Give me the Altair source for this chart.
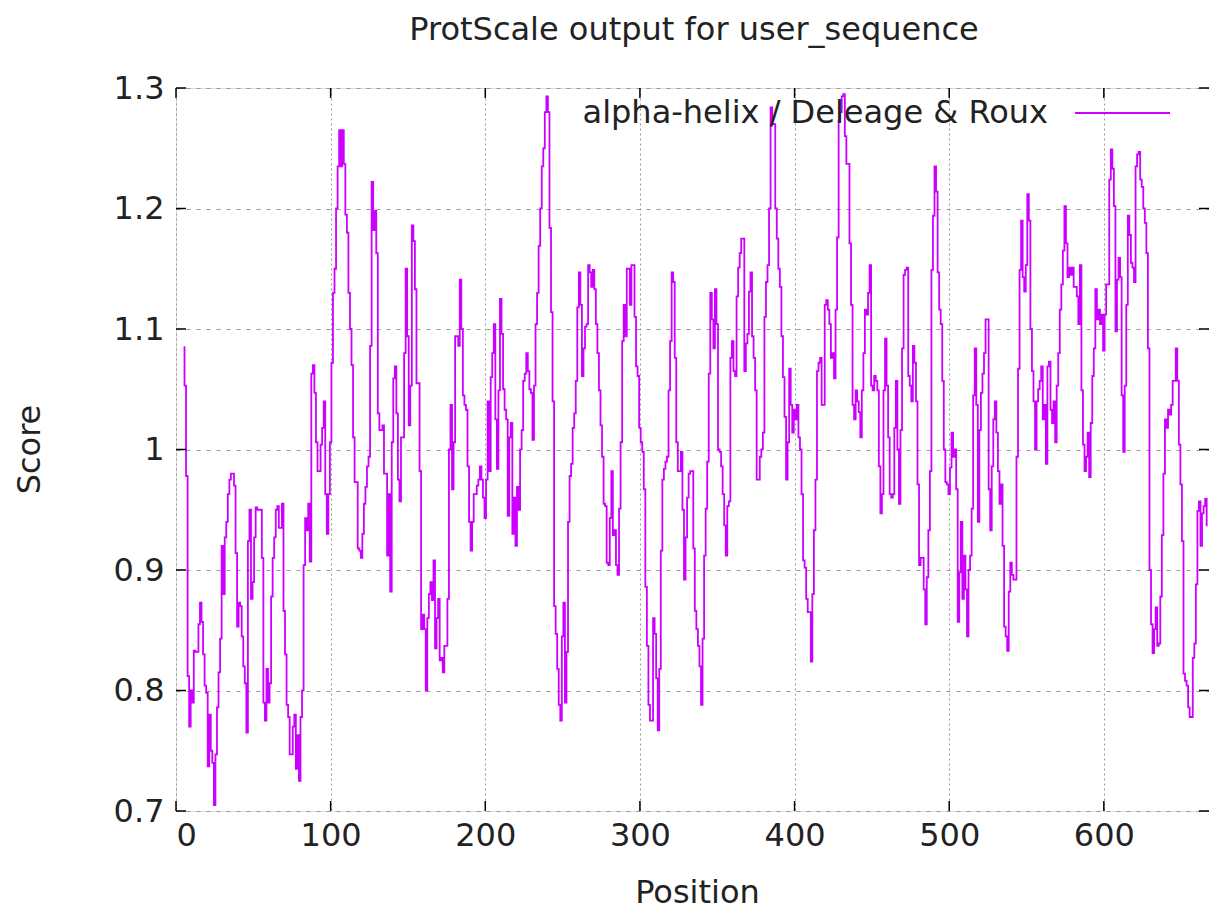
import altair as alt
import pandas as pd

title_text = "ProtScale output for user_sequence"
legend_label = "alpha-helix / Deleage & Roux"
x_title = "Position"
y_title = "Score"
first_position = 5
x_ticks = [0, 100, 200, 300, 400, 500, 600]
y_ticks = [0.7, 0.8, 0.9, 1.0, 1.1, 1.2, 1.3]
x_domain = [0, 668]
y_domain = [0.7, 1.3]

# scores, one per position starting at position 5
scores_005_053 = [1.085, 1.053, 0.978, 0.812, 0.77, 0.80, 0.79, 0.833, 0.832, 0.832,
                  0.855, 0.873, 0.857, 0.83, 0.804, 0.798, 0.737, 0.78, 0.75, 0.74,
                  0.705, 0.747, 0.786, 0.815, 0.843, 0.92, 0.88, 0.927, 0.94, 0.963,
                  0.975, 0.98, 0.98, 0.97, 0.914, 0.853, 0.873, 0.87, 0.845, 0.82,
                  0.806, 0.765, 0.924, 0.95, 0.876, 0.89, 0.927, 0.952, 0.95, 0.95]
scores_054_111 = [0.95, 0.91, 0.79, 0.775, 0.818, 0.79, 0.806, 0.878, 0.91, 0.927,
                  0.95, 0.953, 0.935, 0.935, 0.955, 0.866, 0.83, 0.788, 0.778, 0.747,
                  0.747, 0.77, 0.78, 0.735, 0.763, 0.725, 0.778, 0.80, 0.904, 0.943,
                  0.933, 0.955, 0.907, 1.063, 1.07, 1.047, 1.006, 0.982, 0.982, 1.004,
                  1.018, 1.04, 0.963, 0.93, 0.963, 1.006, 1.072, 1.13, 1.15, 1.2,
                  1.235, 1.265, 1.235, 1.265, 1.237, 1.195, 1.18, 1.13]
scores_112_165 = [1.1, 1.07, 1.01, 0.973, 0.973, 0.918, 0.916, 0.91, 0.93, 0.955,
                  0.969, 0.986, 0.994, 1.086, 1.222, 1.182, 1.198, 1.163, 1.03, 1.016,
                  1.016, 1.02, 0.98, 0.98, 0.912, 0.963, 0.882, 1.006, 1.059, 1.069,
                  1.03, 0.975, 0.957, 1.01, 1.01, 1.08, 1.15, 1.094, 1.02, 1.053,
                  1.186, 1.173, 1.133, 1.055, 1.055, 0.982, 0.851, 0.863, 0.851, 0.80,
                  0.86, 0.88, 0.89, 0.875]
scores_166_220 = [0.908, 0.835, 0.86, 0.876, 0.825, 0.827, 0.815, 0.837, 0.837, 0.876,
                  1.0, 1.037, 0.967, 1.006, 1.094, 1.094, 1.086, 1.141, 1.1, 1.045,
                  1.037, 1.033, 0.986, 0.94, 0.916, 0.94, 0.963, 0.963, 0.97, 0.975,
                  0.986, 0.975, 0.96, 0.943, 0.975, 1.04, 0.982, 1.06, 1.08, 1.104,
                  1.025, 0.984, 1.049, 1.125, 1.096, 1.05, 1.033, 1.025, 0.945, 1.01,
                  1.022, 0.93, 0.96, 0.92, 0.969]
scores_221_279 = [0.95, 1.0, 1.016, 1.057, 1.063, 1.08, 1.065, 1.05, 1.047, 1.008,
                  1.053, 1.104, 1.13, 1.169, 1.2, 1.235, 1.25, 1.28, 1.293, 1.28,
                  1.184, 1.114, 1.04, 0.87, 0.847, 0.818, 0.788, 0.775, 0.845, 0.873,
                  0.79, 0.832, 0.94, 0.978, 0.988, 1.018, 1.03, 1.057, 1.118, 1.147,
                  1.12, 1.061, 1.084, 1.102, 1.104, 1.153, 1.147, 1.135, 1.149, 1.133,
                  1.104, 1.08, 1.049, 1.02, 0.994, 0.955, 0.953, 0.906, 0.904]
scores_280_332 = [0.943, 0.982, 0.929, 0.933, 0.904, 0.896, 0.951, 1.006, 1.09, 1.12,
                  1.094, 1.15, 1.15, 1.12, 1.153, 1.153, 1.11, 1.069, 1.061, 1.018,
                  1.006, 0.998, 0.967, 0.886, 0.837, 0.788, 0.775, 0.775, 0.86, 0.847,
                  0.81, 0.767, 0.818, 0.916, 0.975, 0.984, 0.99, 0.994, 1.049, 1.09,
                  1.147, 1.139, 1.076, 1.006, 0.982, 0.982, 0.998, 0.95, 0.892, 0.927,
                  0.96, 0.98, 0.982]
scores_333_388 = [0.982, 0.918, 0.866, 0.851, 0.837, 0.82, 0.788, 0.843, 0.912, 0.951,
                  0.99, 1.063, 1.13, 1.108, 1.084, 1.133, 1.104, 1.0, 0.998, 0.986,
                  0.963, 0.937, 0.912, 0.953, 0.957, 1.076, 1.09, 1.065, 1.061, 1.127,
                  1.151, 1.163, 1.175, 1.175, 1.065, 1.088, 1.096, 1.131, 1.147, 1.094,
                  1.076, 1.049, 0.975, 0.975, 0.994, 1.0, 1.014, 1.11, 1.139, 1.153,
                  1.2, 1.284, 1.27, 1.27, 1.2, 1.175]
scores_389_444 = [1.15, 1.135, 1.094, 1.06, 1.027, 0.975, 1.006, 1.067, 1.037, 1.014,
                  1.033, 1.025, 1.037, 1.01, 1.0, 0.963, 0.908, 0.902, 0.876, 0.865,
                  0.865, 0.824, 0.88, 0.933, 0.975, 1.065, 1.072, 1.076, 1.037, 1.037,
                  1.12, 1.124, 1.116, 1.104, 1.076, 1.08, 1.059, 1.116, 1.176, 1.273,
                  1.28, 1.293, 1.295, 1.26, 1.237, 1.237, 1.171, 1.12, 1.037, 1.025,
                  1.049, 1.04, 1.031, 1.01, 1.049, 1.08]
scores_445_499 = [1.116, 1.112, 1.13, 1.153, 1.053, 1.049, 1.061, 1.057, 1.049, 0.986,
                  0.947, 0.963, 1.049, 1.092, 1.053, 1.01, 0.963, 0.96, 0.963, 1.018,
                  1.057, 1.0, 0.955, 1.016, 1.084, 1.145, 1.149, 1.151, 1.061, 1.053,
                  1.04, 1.086, 1.072, 1.04, 0.971, 0.904, 0.91, 0.91, 0.884, 0.855,
                  0.894, 0.933, 0.982, 1.149, 1.194, 1.235, 1.214, 1.147, 1.116, 1.104,
                  1.057, 1.0, 0.973, 0.971, 0.963]
scores_500_555 = [0.985, 1.014, 0.994, 1.0, 0.967, 0.857, 0.898, 0.94, 0.876, 0.912,
                  0.884, 0.845, 0.9, 0.912, 0.951, 1.045, 1.084, 1.037, 0.94, 1.016,
                  1.047, 1.063, 1.08, 1.108, 1.108, 0.967, 0.933, 0.986, 1.025, 1.04,
                  1.014, 0.982, 0.955, 0.971, 0.92, 0.853, 0.845, 0.833, 0.882, 0.906,
                  0.896, 0.892, 0.892, 0.994, 1.067, 1.149, 1.19, 1.143, 1.131, 1.153,
                  1.212, 1.19, 1.1, 1.065, 1.04, 1.0]
scores_556_611 = [1.04, 1.05, 1.057, 1.069, 1.025, 1.037, 0.988, 1.069, 1.073, 1.033,
                  1.022, 1.04, 1.006, 1.053, 1.08, 1.116, 1.137, 1.165, 1.202, 1.171,
                  1.143, 1.151, 1.145, 1.151, 1.135, 1.135, 1.127, 1.104, 1.153, 1.049,
                  1.004, 0.982, 0.994, 1.014, 0.977, 1.022, 1.061, 1.084, 1.133, 1.108,
                  1.116, 1.104, 1.112, 1.082, 1.112, 1.137, 1.137, 1.224, 1.249, 1.233,
                  1.202, 1.098, 1.141, 1.159, 1.143, 1.045]
scores_612_667 = [0.998, 1.053, 1.12, 1.194, 1.178, 1.155, 1.151, 1.139, 1.235, 1.245,
                  1.247, 1.224, 1.218, 1.2, 1.188, 1.163, 1.084, 0.9, 0.855, 0.831,
                  0.851, 0.869, 0.837, 0.839, 0.878, 0.929, 0.98, 1.025, 1.018, 1.033,
                  1.029, 1.037, 1.057, 1.057, 1.084, 1.057, 1.004, 0.971, 0.924, 0.814,
                  0.808, 0.804, 0.786, 0.778, 0.778, 0.827, 0.839, 0.888, 0.949, 0.957,
                  0.92, 0.947, 0.953, 0.959, 0.937]

scores = (scores_005_053 + scores_054_111 + scores_112_165 + scores_166_220 +
          scores_221_279 + scores_280_332 + scores_333_388 + scores_389_444 +
          scores_445_499 + scores_500_555 + scores_556_611 + scores_612_667)

df = pd.DataFrame({"Position": list(range(first_position, first_position + len(scores))),
                   "Score": scores})
xt = pd.DataFrame({"Position": x_ticks})
yt = pd.DataFrame({"Score": y_ticks})
leg = pd.DataFrame({"label": [legend_label]})
ttl = pd.DataFrame({"label": [title_text]})

W, H = 1033, 723
LINE = "#cc00ff"
FONT = "DejaVu Sans"
FS = 32
TXT = "#222222"

x_scale = alt.Scale(domain=x_domain, nice=False, zero=False)
y_scale = alt.Scale(domain=y_domain, nice=False, zero=False)

x_enc = alt.X("Position:Q", scale=x_scale,
              axis=alt.Axis(values=x_ticks, format="d", title=x_title, grid=True,
                            gridDash=[2, 3], gridColor="#999999", gridWidth=1,
                            ticks=False, domain=False, labelPadding=9,
                            labelFont=FONT, labelFontSize=FS, labelColor=TXT,
                            titleFont=FONT, titleFontSize=FS, titleFontWeight="normal",
                            titleColor=TXT, titleX=521, titleY=81,
                            titleAlign="center", titleBaseline="middle"))
y_enc = alt.Y("Score:Q", scale=y_scale,
              axis=alt.Axis(values=y_ticks, format="~g", title=y_title, grid=True,
                            gridDash=[4, 6], gridColor="#999999", gridWidth=1,
                            ticks=False, domain=False, labelPadding=12,
                            labelFont=FONT, labelFontSize=FS, labelColor=TXT,
                            titleFont=FONT, titleFontSize=FS, titleFontWeight="normal",
                            titleColor=TXT, titleX=-147, titleY=361, titleAngle=270,
                            titleAlign="center", titleBaseline="middle"))

line = alt.Chart(df).mark_line(color=LINE, strokeWidth=1.8, interpolate="step").encode(
    x=x_enc, y=y_enc)

tick_bottom = alt.Chart(xt).mark_rule(color="black", strokeWidth=1.5).encode(
    x=x_enc, y=alt.value(H), y2=alt.value(H - 10))
tick_top = alt.Chart(xt).mark_rule(color="black", strokeWidth=1.5).encode(
    x=x_enc, y=alt.value(0), y2=alt.value(10))
tick_left = alt.Chart(yt).mark_rule(color="black", strokeWidth=1.5).encode(
    y=y_enc, x=alt.value(0), x2=alt.value(10))
tick_right = alt.Chart(yt).mark_rule(color="black", strokeWidth=1.5).encode(
    y=y_enc, x=alt.value(W), x2=alt.value(W - 10))

legend_text = alt.Chart(leg).mark_text(font=FONT, fontSize=FS, color=TXT, align="right",
                                       baseline="middle").encode(
    text="label:N", x=alt.value(872), y=alt.value(25))
legend_line = alt.Chart(leg).mark_rule(color=LINE, strokeWidth=1.8).encode(
    x=alt.value(899), x2=alt.value(994), y=alt.value(25))
title_mark = alt.Chart(ttl).mark_text(font=FONT, fontSize=FS, color=TXT, align="center",
                                      baseline="middle").encode(
    text="label:N", x=alt.value(518), y=alt.value(-58))

chart = alt.layer(
    line, legend_text, legend_line, title_mark,
    tick_bottom, tick_top, tick_left, tick_right
).properties(
    width=W, height=H,
    autosize=alt.AutoSizeParams(type="none"),
    padding={"left": 168, "top": 80, "right": 0, "bottom": 100},
).configure_view(stroke="black", strokeWidth=1.5).configure(background="white")

chart.save("out.html", embed_options={"renderer": "svg", "actions": False})
